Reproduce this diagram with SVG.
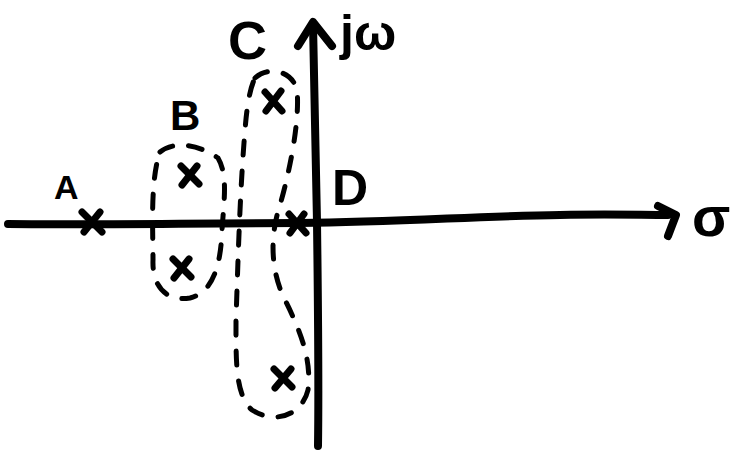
<svg xmlns="http://www.w3.org/2000/svg" width="755" height="459" viewBox="0 0 755 459">
<style>
.ax{fill:none;stroke:#000;stroke-width:8;stroke-linecap:round;stroke-linejoin:round}
.pole{fill:none;stroke:#000;stroke-width:7;stroke-linecap:round}
.grp{fill:none;stroke:#000;stroke-width:5;stroke-linecap:round;stroke-dasharray:14 16}
.lbl{font-family:"Liberation Sans","DejaVu Sans",sans-serif;font-weight:bold;fill:#000}
</style>
<rect width="755" height="459" fill="#fff"/>
<g id="connectors">
<path class="ax" d="M8 224 C100 225 200 223 300 223 C400 222 480 216 560 215 C610 214 640 215 668 215"/>
<path class="ax" d="M658 206 L676 215 L668 236"/>
<path class="ax" d="M318 446 C319 380 318 300 317 222 C316 150 314 80 313 24"/>
<path class="ax" d="M298 46 L313 22 L332 46"/>
</g>
<g id="groupB">
<path class="grp" d="M160 152 C175 140 200 145 218 158 C228 175 224 200 222 230 C221 260 215 292 190 298 C165 302 152 285 153 260 C153 230 150 180 160 152 Z"/>
</g>
<g id="groupC">
<path class="grp" d="M255 78 C268 66 292 70 297 90 C300 120 290 170 280 205 C270 235 270 270 285 300 C300 330 312 360 308 390 C302 415 275 425 252 410 C235 395 236 360 236 320 C238 260 240 190 245 130 C247 105 250 88 255 78 Z"/>
</g>
<g id="poleA"><path class="pole" d="M82 212 L102 232 M100 212 L84 232"/></g>
<g id="poleB1"><path class="pole" d="M181 166 L199 184 M197 166 L182 185"/></g>
<g id="poleB2"><path class="pole" d="M173 259 L191 277 M189 259 L174 278"/></g>
<g id="poleC1"><path class="pole" d="M265 92 L282 111 M281 91 L266 111"/></g>
<g id="poleC2"><path class="pole" d="M274 369 L292 387 M291 369 L275 388"/></g>
<g id="poleD"><path class="pole" d="M289 214 L306 233 M304 214 L290 233"/></g>
<g id="labels">
<text class="lbl" x="54" y="199" font-size="34">A</text>
<text class="lbl" x="170" y="130" font-size="42">B</text>
<text class="lbl" x="228" y="59" font-size="54">C</text>
<text class="lbl" x="332" y="205" font-size="50">D</text>
<text class="lbl" x="340" y="50" font-size="50">jω</text>
<text class="lbl" x="692" y="236" font-size="56">σ</text>
</g>
</svg>
